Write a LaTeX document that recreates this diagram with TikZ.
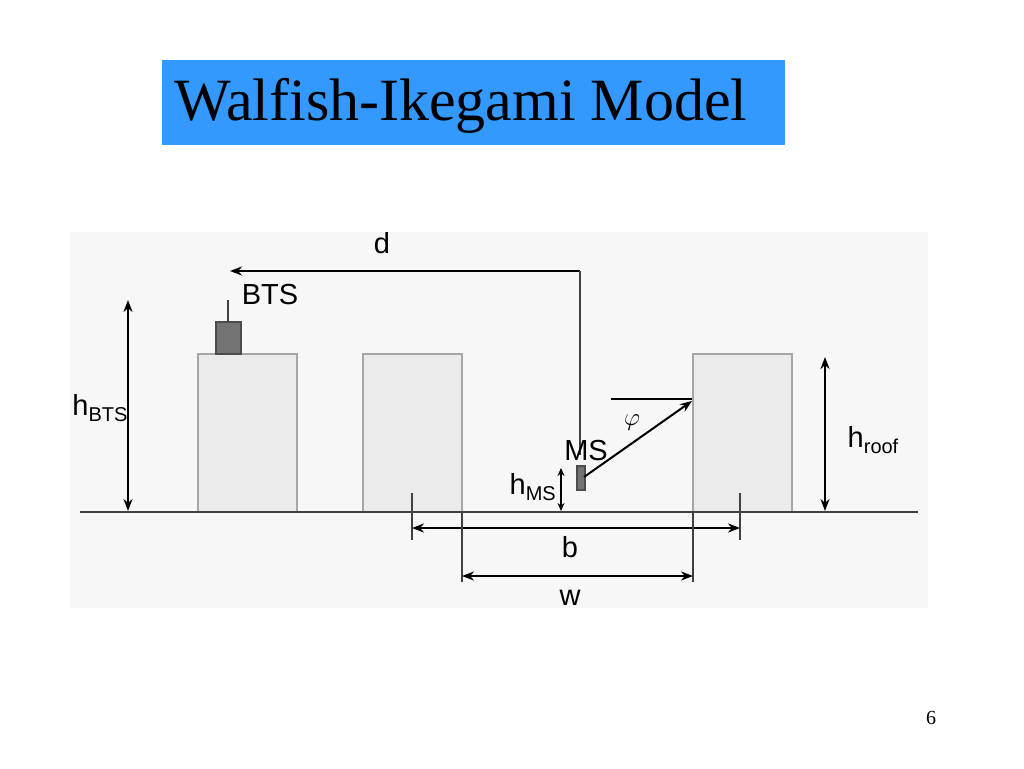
\documentclass[tikz,border=0pt]{standalone}
\usepackage{fontspec}
\setmainfont{Liberation Serif}
\newfontfamily\arialf{Liberation Sans}
\usetikzlibrary{arrows.meta}
\begin{document}
\begin{tikzpicture}[x=1pt,y=-1pt,
  bld/.style={draw=gray!70,line width=1.2pt,fill=black!8},
  tip/.tip={Stealth[length=12pt,width=9pt]},
  dim/.style={draw=black,line width=2pt,tip-tip},
  thin/.style={draw=black!75,line width=1.5pt},
  lab/.style={font=\arialf\fontsize{29}{32}\selectfont,inner sep=0pt},
  sub/.style={}]
\useasboundingbox (0,0) rectangle (1024,768);
\fill[white] (0,0) rectangle (1024,768);
\fill[black!3] (70,232) rectangle (928,608);
\fill[fill={rgb,255:red,51;green,153;blue,255}] (162,60) rectangle (785,145);
\node[anchor=base west,inner sep=0pt,font=\fontsize{60}{64}\selectfont] (title) at (174,120) {Walfish-Ikegami Model};
% buildings
\draw[bld] (198,354) rectangle (297,512);
\draw[bld] (363,354) rectangle (462,512);
\draw[bld] (693,354) rectangle (792,512);
\draw[line width=2pt,black!75] (80,512) -- (918,512);
% BTS
\draw[thin] (228,300) -- (228,322);
\draw[draw=black!70,line width=1.2pt,fill=black!55] (216,322) rectangle (241,354);
\node[lab] (bts) at (270,295) {BTS};
% d
\coordinate (d1) at (230,271); \coordinate (d2) at (580,271);
\draw[dim,tip-] (d1) -- (d2);
\node[lab] (d) at (382,243) {d};
\draw[thin] (580,271) -- (580,455);
% MS
\draw[draw=black!70,line width=1.2pt,fill=black!55] (577,466) rectangle (585,490);
\node[lab] (ms) at (586,451) {MS};
\coordinate (msp) at (584,477); \coordinate (rc) at (692,401);
\draw[dim,-tip] (msp) -- (rc);
\draw[line width=2.2pt] (611,399) -- (692,399);
\node[font=\fontsize{30}{32}\selectfont,inner sep=0pt] (phi) at (632,423) {$\varphi$};
% hMS
\draw[dim,{Stealth[length=8pt,width=7pt]}-{Stealth[length=8pt,width=7pt]}] (561,468) -- (561,511);
\node[lab,anchor=east] (hms) at (556,487) {h\raisebox{-6pt}{\fontsize{20}{22}\selectfont MS}};
% hBTS
\draw[dim] (128,300) -- (128,511);
\node[lab] (hbts) at (100,408) {h\raisebox{-6pt}{\fontsize{20}{22}\selectfont BTS}};
% hroof
\draw[dim] (825,357) -- (825,511);
\node[lab] (hroof) at (873,440) {h\raisebox{-6pt}{\fontsize{20}{22}\selectfont roof}};
% b
\draw[thin] (412,493) -- (412,540);
\draw[thin] (740,493) -- (740,540);
\draw[dim] (412,528) -- (740,528);
\node[lab] (b) at (570,547) {b};
% w
\draw[thin] (462,512) -- (462,582);
\draw[thin] (693,512) -- (693,582);
\draw[dim] (462,576) -- (693,576);
\node[lab] (w) at (570,598) {w};
\node[font=\fontsize{20}{22}\selectfont] (pg) at (931,718) {6};
\end{tikzpicture}
\end{document}
